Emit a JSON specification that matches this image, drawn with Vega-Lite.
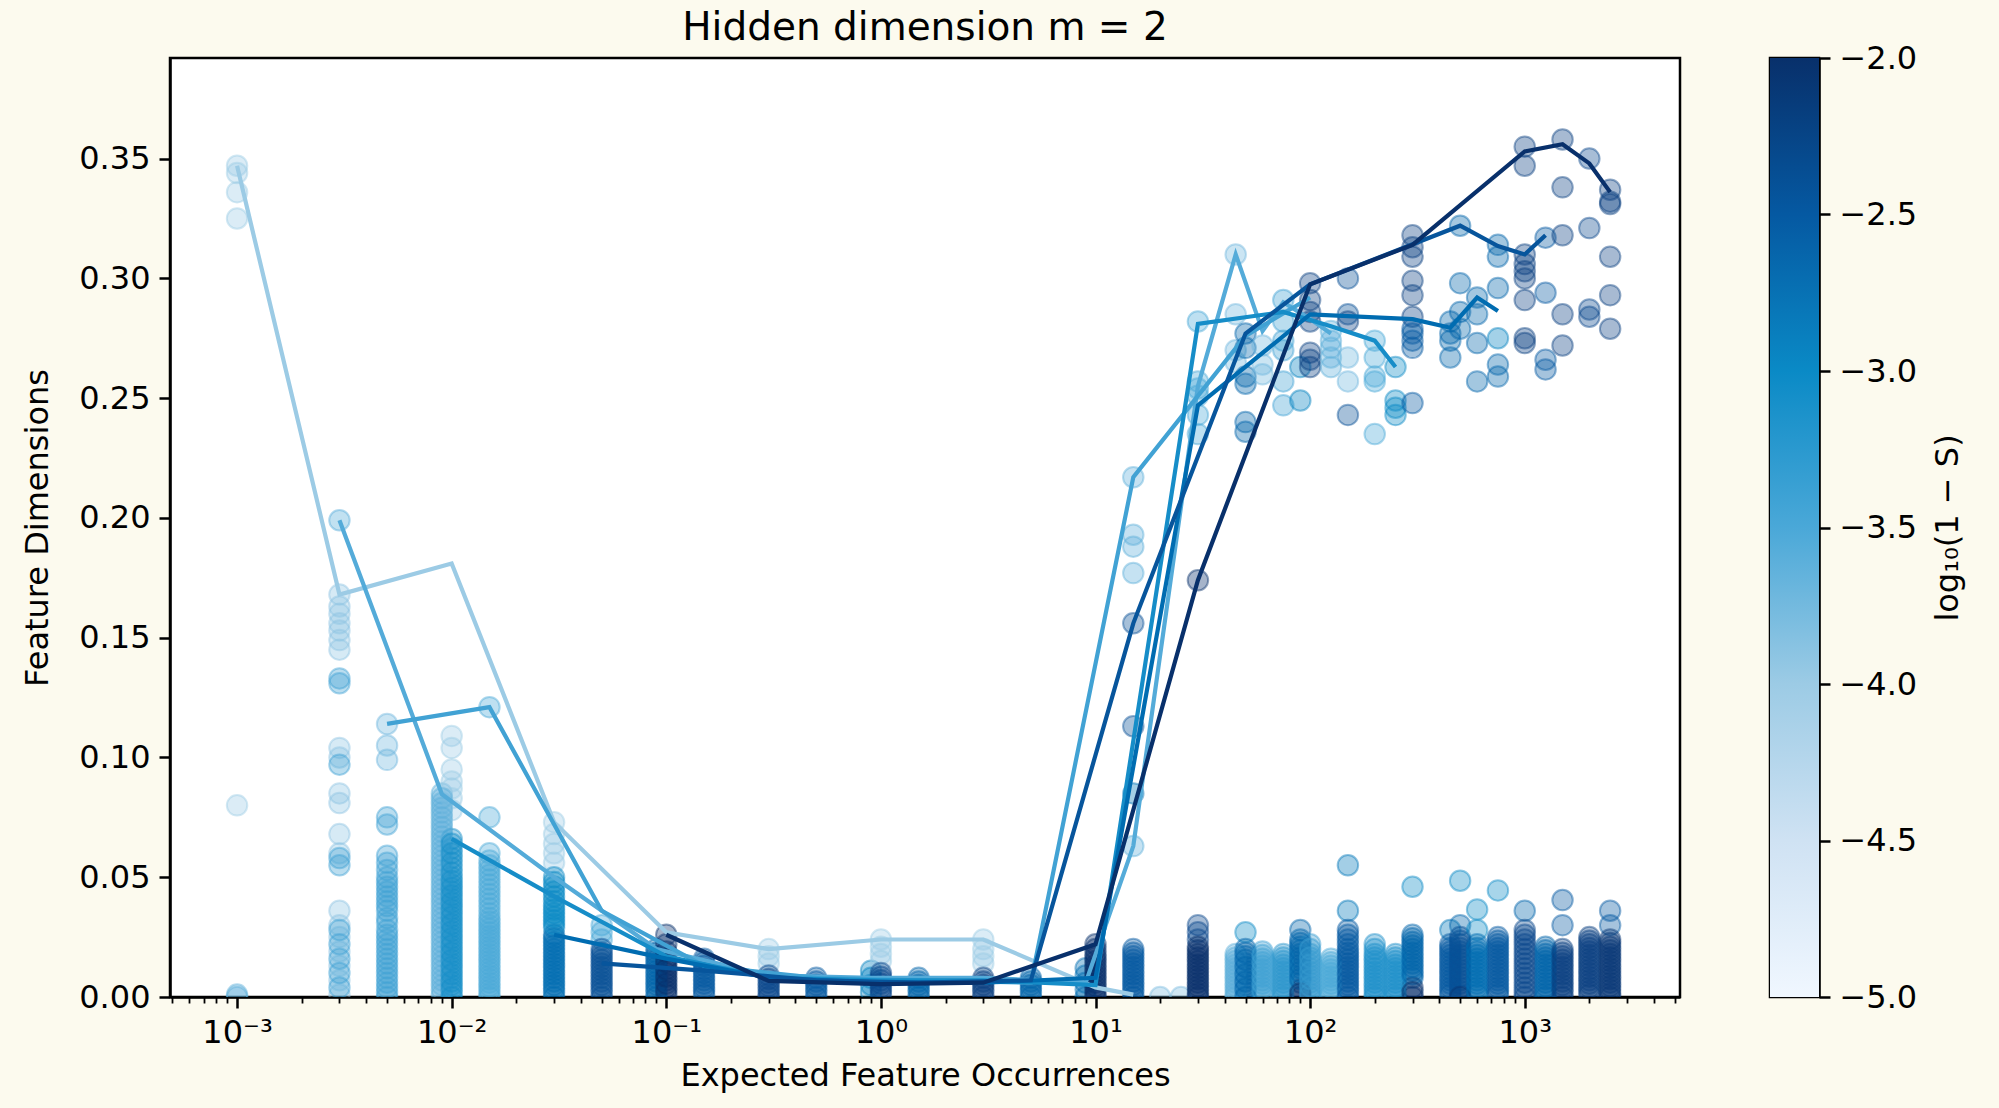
{
  "$schema": "https://vega.github.io/schema/vega-lite/v6.json",
  "background": "#fcfaee",
  "padding": {"left": 20, "top": 7, "right": 34, "bottom": 17},
  "spacing": 86,
  "config": {
    "font": "DejaVu Sans",
    "view": {"stroke": "black", "strokeWidth": 2.5, "fill": "white"},
    "axis": {
      "labelFont": "DejaVu Sans", "labelFontSize": 32, "labelColor": "black",
      "titleFont": "DejaVu Sans", "titleFontSize": 32, "titleFontWeight": "normal", "titleColor": "black",
      "domainColor": "black", "domainWidth": 2.5, "tickColor": "black", "tickWidth": 2.5,
      "tickSize": 11, "labelPadding": 9, "grid": false
    },
    "title": {"font": "DejaVu Sans", "fontSize": 39, "fontWeight": "normal", "color": "black"}
  },
  "datasets": {
    "pts": [
      {"x":0.001,"y":0.347,"c":-4},{"x":0.001,"y":0.344,"c":-4},{"x":0.001,"y":0.336,"c":-4},{"x":0.001,"y":0.325,"c":-4},{"x":0.001,"y":0.08,"c":-4},
      {"x":0.001,"y":0,"c":-3.6},{"x":0.001,"y":0.001,"c":-3.6},
      {"x":0.003,"y":0.168,"c":-3.9},{"x":0.003,"y":0.163,"c":-3.9},{"x":0.003,"y":0.16,"c":-3.9},{"x":0.003,"y":0.156,"c":-3.9},{"x":0.003,"y":0.153,"c":-3.9},{"x":0.003,"y":0.149,"c":-3.9},{"x":0.003,"y":0.145,"c":-3.9},{"x":0.003,"y":0.104,"c":-3.9},{"x":0.003,"y":0.1,"c":-3.9},{"x":0.003,"y":0.085,"c":-3.9},{"x":0.003,"y":0.081,"c":-3.9},{"x":0.003,"y":0.068,"c":-3.9},{"x":0.003,"y":0.06,"c":-3.9},{"x":0.003,"y":0.036,"c":-3.9},{"x":0.003,"y":0.03,"c":-3.9},{"x":0.003,"y":0.025,"c":-3.9},{"x":0.003,"y":0.019,"c":-3.9},{"x":0.003,"y":0.013,"c":-3.9},{"x":0.003,"y":0.007,"c":-3.9},{"x":0.003,"y":0.001,"c":-3.9},
      {"x":0.003,"y":0.133,"c":-3.4},{"x":0.003,"y":0.131,"c":-3.4},{"x":0.003,"y":0.097,"c":-3.4},{"x":0.003,"y":0.058,"c":-3.4},{"x":0.003,"y":0.055,"c":-3.4},{"x":0.003,"y":0.028,"c":-3.4},{"x":0.003,"y":0.022,"c":-3.4},{"x":0.003,"y":0.016,"c":-3.4},{"x":0.003,"y":0.01,"c":-3.4},{"x":0.003,"y":0.004,"c":-3.4},
      {"x":0.003,"y":0.199,"c":-3.55},
      {"x":0.005,"y":0.114,"c":-3.7},{"x":0.005,"y":0.105,"c":-3.7},{"x":0.005,"y":0.099,"c":-3.7},
      {"x":0.005,"y":0.075,"c":-3.4},{"x":0.005,"y":0.072,"c":-3.4},{"x":0.005,"y":0.059,"c":-3.4},{"x":0.005,"y":0.056,"c":-3.4},{"x":0.005,"y":0.05,"c":-3.4},{"x":0.005,"y":0.046,"c":-3.4},{"x":0.005,"y":0.042,"c":-3.4},{"x":0.005,"y":0.038,"c":-3.4},{"x":0.005,"y":0.033,"c":-3.4},{"x":0.005,"y":0.028,"c":-3.4},{"x":0.005,"y":0.024,"c":-3.4},{"x":0.005,"y":0.02,"c":-3.4},{"x":0.005,"y":0.016,"c":-3.4},{"x":0.005,"y":0.012,"c":-3.4},{"x":0.005,"y":0.008,"c":-3.4},{"x":0.005,"y":0.004,"c":-3.4},{"x":0.005,"y":0,"c":-3.4},
      {"x":0.009,"y":0.085,"c":-3.6},{"x":0.009,"y":0.081,"c":-3.6},{"x":0.009,"y":0.077,"c":-3.6},{"x":0.009,"y":0.073,"c":-3.6},{"x":0.009,"y":0.069,"c":-3.6},{"x":0.009,"y":0.065,"c":-3.6},{"x":0.009,"y":0.061,"c":-3.6},{"x":0.009,"y":0.057,"c":-3.6},{"x":0.009,"y":0.053,"c":-3.6},{"x":0.009,"y":0.049,"c":-3.6},{"x":0.009,"y":0.045,"c":-3.6},{"x":0.009,"y":0.041,"c":-3.6},{"x":0.009,"y":0.037,"c":-3.6},{"x":0.009,"y":0.033,"c":-3.6},{"x":0.009,"y":0.029,"c":-3.6},{"x":0.009,"y":0.025,"c":-3.6},{"x":0.009,"y":0.021,"c":-3.6},{"x":0.009,"y":0.017,"c":-3.6},{"x":0.009,"y":0.013,"c":-3.6},{"x":0.009,"y":0.009,"c":-3.6},{"x":0.009,"y":0.005,"c":-3.6},{"x":0.009,"y":0.001,"c":-3.6},
      {"x":0.01,"y":0.109,"c":-4},{"x":0.01,"y":0.104,"c":-4},{"x":0.01,"y":0.095,"c":-4},{"x":0.01,"y":0.09,"c":-4},{"x":0.01,"y":0.087,"c":-4},{"x":0.01,"y":0.083,"c":-4},{"x":0.01,"y":0.078,"c":-4},
      {"x":0.01,"y":0.066,"c":-3.05},{"x":0.01,"y":0.062,"c":-3.05},{"x":0.01,"y":0.058,"c":-3.05},{"x":0.01,"y":0.054,"c":-3.05},{"x":0.01,"y":0.05,"c":-3.05},{"x":0.01,"y":0.047,"c":-3.05},{"x":0.01,"y":0.044,"c":-3.05},{"x":0.01,"y":0.041,"c":-3.05},{"x":0.01,"y":0.038,"c":-3.05},{"x":0.01,"y":0.035,"c":-3.05},{"x":0.01,"y":0.032,"c":-3.05},{"x":0.01,"y":0.029,"c":-3.05},{"x":0.01,"y":0.026,"c":-3.05},{"x":0.01,"y":0.023,"c":-3.05},{"x":0.01,"y":0.02,"c":-3.05},{"x":0.01,"y":0.017,"c":-3.05},{"x":0.01,"y":0.014,"c":-3.05},{"x":0.01,"y":0.011,"c":-3.05},{"x":0.01,"y":0.008,"c":-3.05},{"x":0.01,"y":0.005,"c":-3.05},{"x":0.01,"y":0.002,"c":-3.05},
      {"x":0.015,"y":0.121,"c":-3.5},{"x":0.015,"y":0.075,"c":-3.5},{"x":0.015,"y":0.06,"c":-3.5},{"x":0.015,"y":0.057,"c":-3.5},{"x":0.015,"y":0.053,"c":-3.5},{"x":0.015,"y":0.049,"c":-3.5},{"x":0.015,"y":0.045,"c":-3.5},{"x":0.015,"y":0.041,"c":-3.5},{"x":0.015,"y":0.037,"c":-3.5},{"x":0.015,"y":0.033,"c":-3.5},{"x":0.015,"y":0.03,"c":-3.5},{"x":0.015,"y":0.027,"c":-3.5},{"x":0.015,"y":0.024,"c":-3.5},{"x":0.015,"y":0.021,"c":-3.5},{"x":0.015,"y":0.018,"c":-3.5},{"x":0.015,"y":0.015,"c":-3.5},{"x":0.015,"y":0.012,"c":-3.5},{"x":0.015,"y":0.009,"c":-3.5},{"x":0.015,"y":0.006,"c":-3.5},{"x":0.015,"y":0.003,"c":-3.5},{"x":0.015,"y":0,"c":-3.5},
      {"x":0.03,"y":0.073,"c":-4},{"x":0.03,"y":0.068,"c":-4},{"x":0.03,"y":0.064,"c":-4},{"x":0.03,"y":0.06,"c":-4},{"x":0.03,"y":0.056,"c":-4},
      {"x":0.03,"y":0.05,"c":-3},{"x":0.03,"y":0.046,"c":-3},{"x":0.03,"y":0.042,"c":-3},{"x":0.03,"y":0.038,"c":-3},{"x":0.03,"y":0.035,"c":-3},{"x":0.03,"y":0.032,"c":-3},{"x":0.03,"y":0.029,"c":-3},
      {"x":0.03,"y":0.026,"c":-2.7},{"x":0.03,"y":0.023,"c":-2.7},{"x":0.03,"y":0.02,"c":-2.7},{"x":0.03,"y":0.017,"c":-2.7},{"x":0.03,"y":0.014,"c":-2.7},{"x":0.03,"y":0.011,"c":-2.7},{"x":0.03,"y":0.008,"c":-2.7},{"x":0.03,"y":0.005,"c":-2.7},{"x":0.03,"y":0.002,"c":-2.7},
      {"x":0.05,"y":0.03,"c":-3.5},{"x":0.05,"y":0.027,"c":-3.5},{"x":0.05,"y":0.024,"c":-3.5},
      {"x":0.05,"y":0.02,"c":-2.4},{"x":0.05,"y":0.017,"c":-2.4},{"x":0.05,"y":0.014,"c":-2.4},{"x":0.05,"y":0.011,"c":-2.4},{"x":0.05,"y":0.008,"c":-2.4},{"x":0.05,"y":0.005,"c":-2.4},{"x":0.05,"y":0.002,"c":-2.4},
      {"x":0.09,"y":0.02,"c":-2.6},{"x":0.09,"y":0.017,"c":-2.6},{"x":0.09,"y":0.014,"c":-2.6},{"x":0.09,"y":0.011,"c":-2.6},{"x":0.09,"y":0.008,"c":-2.6},{"x":0.09,"y":0.005,"c":-2.6},{"x":0.09,"y":0.002,"c":-2.6},
      {"x":0.1,"y":0.026,"c":-2},{"x":0.1,"y":0.016,"c":-2},{"x":0.1,"y":0.013,"c":-2},{"x":0.1,"y":0.01,"c":-2},{"x":0.1,"y":0.007,"c":-2},{"x":0.1,"y":0.004,"c":-2},{"x":0.1,"y":0.001,"c":-2},
      {"x":0.15,"y":0.016,"c":-2.5},{"x":0.15,"y":0.013,"c":-2.5},{"x":0.15,"y":0.01,"c":-2.5},{"x":0.15,"y":0.007,"c":-2.5},{"x":0.15,"y":0.004,"c":-2.5},{"x":0.15,"y":0.001,"c":-2.5},
      {"x":0.3,"y":0.02,"c":-4},{"x":0.3,"y":0.017,"c":-4},{"x":0.3,"y":0.014,"c":-4},
      {"x":0.3,"y":0.009,"c":-2.3},{"x":0.3,"y":0.006,"c":-2.3},{"x":0.3,"y":0.003,"c":-2.3},{"x":0.3,"y":0,"c":-2.3},
      {"x":0.5,"y":0.008,"c":-2.5},{"x":0.5,"y":0.005,"c":-2.5},{"x":0.5,"y":0.002,"c":-2.5},
      {"x":0.9,"y":0.011,"c":-2.9},{"x":0.9,"y":0.008,"c":-2.9},{"x":0.9,"y":0.005,"c":-2.9},{"x":0.9,"y":0.002,"c":-2.9},
      {"x":1,"y":0.024,"c":-4},{"x":1,"y":0.021,"c":-4},{"x":1,"y":0.018,"c":-4},{"x":1,"y":0.015,"c":-4},
      {"x":1,"y":0.01,"c":-2.3},{"x":1,"y":0.007,"c":-2.3},{"x":1,"y":0.004,"c":-2.3},{"x":1,"y":0.001,"c":-2.3},
      {"x":1.5,"y":0.008,"c":-2.6},{"x":1.5,"y":0.005,"c":-2.6},{"x":1.5,"y":0.002,"c":-2.6},
      {"x":3,"y":0.024,"c":-4},{"x":3,"y":0.02,"c":-4},{"x":3,"y":0.017,"c":-4},{"x":3,"y":0.014,"c":-4},
      {"x":3,"y":0.008,"c":-2.2},{"x":3,"y":0.005,"c":-2.2},{"x":3,"y":0.002,"c":-2.2},
      {"x":5,"y":0.008,"c":-2.6},{"x":5,"y":0.005,"c":-2.6},{"x":5,"y":0.002,"c":-2.6},
      {"x":9,"y":0.012,"c":-2.7},{"x":9,"y":0.009,"c":-2.7},{"x":9,"y":0.006,"c":-2.7},{"x":9,"y":0.003,"c":-2.7},{"x":9,"y":0,"c":-2.7},
      {"x":10,"y":0.022,"c":-2},{"x":10,"y":0.018,"c":-2},{"x":10,"y":0.015,"c":-2},{"x":10,"y":0.012,"c":-2},{"x":10,"y":0.009,"c":-2},{"x":10,"y":0.006,"c":-2},{"x":10,"y":0.003,"c":-2},{"x":10,"y":0,"c":-2},
      {"x":15,"y":0.217,"c":-3.6},{"x":15,"y":0.193,"c":-3.6},{"x":15,"y":0.188,"c":-3.6},{"x":15,"y":0.177,"c":-3.6},{"x":15,"y":0.063,"c":-3.6},
      {"x":15,"y":0.156,"c":-2.4},{"x":15,"y":0.113,"c":-2.4},{"x":15,"y":0.085,"c":-2.8},
      {"x":15,"y":0.02,"c":-2.5},{"x":15,"y":0.017,"c":-2.5},{"x":15,"y":0.014,"c":-2.5},{"x":15,"y":0.011,"c":-2.5},{"x":15,"y":0.008,"c":-2.5},{"x":15,"y":0.005,"c":-2.5},{"x":15,"y":0.002,"c":-2.5},
      {"x":20,"y":0,"c":-3.8},{"x":25,"y":0,"c":-3.8},
      {"x":30,"y":0.282,"c":-3.5},{"x":30,"y":0.257,"c":-3.5},{"x":30,"y":0.254,"c":-3.5},{"x":30,"y":0.251,"c":-3.5},{"x":30,"y":0.243,"c":-3.5},{"x":30,"y":0.235,"c":-3.5},
      {"x":30,"y":0.174,"c":-2},{"x":30,"y":0.03,"c":-2.3},{"x":30,"y":0.027,"c":-2.3},{"x":30,"y":0.024,"c":-2.3},
      {"x":30,"y":0.021,"c":-2},{"x":30,"y":0.018,"c":-2},{"x":30,"y":0.015,"c":-2},{"x":30,"y":0.012,"c":-2},{"x":30,"y":0.009,"c":-2},{"x":30,"y":0.006,"c":-2},{"x":30,"y":0.003,"c":-2},{"x":30,"y":0,"c":-2},
      {"x":45,"y":0.31,"c":-3.7},{"x":45,"y":0.285,"c":-3.7},{"x":45,"y":0.27,"c":-3.7},{"x":45,"y":0.265,"c":-3.7},
      {"x":45,"y":0.018,"c":-3.6},{"x":45,"y":0.015,"c":-3.6},{"x":45,"y":0.012,"c":-3.6},{"x":45,"y":0.009,"c":-3.6},{"x":45,"y":0.006,"c":-3.6},{"x":45,"y":0.003,"c":-3.6},{"x":45,"y":0,"c":-3.6},
      {"x":50,"y":0.277,"c":-2.6},{"x":50,"y":0.271,"c":-2.6},{"x":50,"y":0.259,"c":-2.6},{"x":50,"y":0.256,"c":-2.6},{"x":50,"y":0.24,"c":-2.6},{"x":50,"y":0.236,"c":-2.6},{"x":50,"y":0.027,"c":-3},
      {"x":50,"y":0.02,"c":-2.6},{"x":50,"y":0.017,"c":-2.6},{"x":50,"y":0.014,"c":-2.6},{"x":50,"y":0.011,"c":-2.6},{"x":50,"y":0.008,"c":-2.6},{"x":50,"y":0.005,"c":-2.6},{"x":50,"y":0.002,"c":-2.6},
      {"x":60,"y":0.272,"c":-3.7},{"x":60,"y":0.264,"c":-3.7},{"x":60,"y":0.26,"c":-3.7},
      {"x":60,"y":0.019,"c":-3.4},{"x":60,"y":0.016,"c":-3.4},{"x":60,"y":0.013,"c":-3.4},{"x":60,"y":0.01,"c":-3.4},{"x":60,"y":0.007,"c":-3.4},{"x":60,"y":0.004,"c":-3.4},{"x":60,"y":0.001,"c":-3.4},
      {"x":75,"y":0.291,"c":-3.4},{"x":75,"y":0.282,"c":-3.4},{"x":75,"y":0.274,"c":-3.4},{"x":75,"y":0.27,"c":-3.4},{"x":75,"y":0.257,"c":-3.4},{"x":75,"y":0.247,"c":-3.4},
      {"x":75,"y":0.018,"c":-3.2},{"x":75,"y":0.015,"c":-3.2},{"x":75,"y":0.012,"c":-3.2},{"x":75,"y":0.009,"c":-3.2},{"x":75,"y":0.006,"c":-3.2},{"x":75,"y":0.003,"c":-3.2},{"x":75,"y":0,"c":-3.2},
      {"x":90,"y":0.263,"c":-2.9},{"x":90,"y":0.249,"c":-2.9},
      {"x":90,"y":0.028,"c":-2.6},{"x":90,"y":0.024,"c":-2.6},{"x":90,"y":0.021,"c":-2.6},{"x":90,"y":0.018,"c":-2.6},{"x":90,"y":0.015,"c":-2.6},{"x":90,"y":0.012,"c":-2.6},{"x":90,"y":0.009,"c":-2.6},{"x":90,"y":0.006,"c":-2.6},
      {"x":90,"y":0.003,"c":-2},{"x":90,"y":0,"c":-2},
      {"x":100,"y":0.298,"c":-2.2},{"x":100,"y":0.291,"c":-2.2},{"x":100,"y":0.286,"c":-2.2},{"x":100,"y":0.282,"c":-2.2},{"x":100,"y":0.269,"c":-2.2},{"x":100,"y":0.266,"c":-2.2},{"x":100,"y":0.263,"c":-2.2},
      {"x":100,"y":0.022,"c":-3.3},{"x":100,"y":0.018,"c":-3.3},{"x":100,"y":0.015,"c":-3.3},{"x":100,"y":0.012,"c":-3.3},{"x":100,"y":0.009,"c":-3.3},{"x":100,"y":0.006,"c":-3.3},{"x":100,"y":0.003,"c":-3.3},{"x":100,"y":0,"c":-3.3},
      {"x":125,"y":0.278,"c":-3.6},{"x":125,"y":0.274,"c":-3.6},{"x":125,"y":0.271,"c":-3.6},{"x":125,"y":0.267,"c":-3.6},{"x":125,"y":0.263,"c":-3.6},
      {"x":125,"y":0.016,"c":-3.5},{"x":125,"y":0.013,"c":-3.5},{"x":125,"y":0.01,"c":-3.5},{"x":125,"y":0.007,"c":-3.5},{"x":125,"y":0.004,"c":-3.5},{"x":125,"y":0.001,"c":-3.5},
      {"x":150,"y":0.3,"c":-2.4},{"x":150,"y":0.285,"c":-2.4},{"x":150,"y":0.243,"c":-2.4},{"x":150,"y":0.282,"c":-2.2},{"x":150,"y":0.267,"c":-3.7},{"x":150,"y":0.257,"c":-3.7},
      {"x":150,"y":0.055,"c":-2.8},{"x":150,"y":0.036,"c":-2.8},
      {"x":150,"y":0.028,"c":-2.5},{"x":150,"y":0.024,"c":-2.5},{"x":150,"y":0.02,"c":-2.5},{"x":150,"y":0.017,"c":-2.5},{"x":150,"y":0.014,"c":-2.5},{"x":150,"y":0.011,"c":-2.5},{"x":150,"y":0.008,"c":-2.5},{"x":150,"y":0.005,"c":-2.5},{"x":150,"y":0.002,"c":-2.5},
      {"x":200,"y":0.274,"c":-3.5},{"x":200,"y":0.267,"c":-3.5},{"x":200,"y":0.259,"c":-3.5},{"x":200,"y":0.257,"c":-3.5},{"x":200,"y":0.235,"c":-3.5},
      {"x":200,"y":0.022,"c":-3.1},{"x":200,"y":0.018,"c":-3.1},{"x":200,"y":0.015,"c":-3.1},{"x":200,"y":0.012,"c":-3.1},{"x":200,"y":0.009,"c":-3.1},{"x":200,"y":0.006,"c":-3.1},{"x":200,"y":0.003,"c":-3.1},{"x":200,"y":0,"c":-3.1},
      {"x":250,"y":0.263,"c":-3},{"x":250,"y":0.249,"c":-3},{"x":250,"y":0.246,"c":-3},{"x":250,"y":0.243,"c":-3},
      {"x":250,"y":0.018,"c":-3.1},{"x":250,"y":0.015,"c":-3.1},{"x":250,"y":0.012,"c":-3.1},{"x":250,"y":0.009,"c":-3.1},{"x":250,"y":0.006,"c":-3.1},{"x":250,"y":0.003,"c":-3.1},{"x":250,"y":0,"c":-3.1},
      {"x":300,"y":0.318,"c":-2.2},{"x":300,"y":0.313,"c":-2.2},{"x":300,"y":0.309,"c":-2.2},{"x":300,"y":0.299,"c":-2.2},{"x":300,"y":0.293,"c":-2.2},{"x":300,"y":0.284,"c":-2.2},
      {"x":300,"y":0.279,"c":-2.5},{"x":300,"y":0.277,"c":-2.5},{"x":300,"y":0.274,"c":-2.5},{"x":300,"y":0.271,"c":-2.5},{"x":300,"y":0.248,"c":-2.5},
      {"x":300,"y":0.046,"c":-3},
      {"x":300,"y":0.026,"c":-2.6},{"x":300,"y":0.023,"c":-2.6},{"x":300,"y":0.02,"c":-2.6},{"x":300,"y":0.017,"c":-2.6},{"x":300,"y":0.014,"c":-2.6},{"x":300,"y":0.011,"c":-2.6},{"x":300,"y":0.008,"c":-2.6},
      {"x":300,"y":0.004,"c":-2},{"x":300,"y":0,"c":-2},
      {"x":450,"y":0.282,"c":-2.6},{"x":450,"y":0.277,"c":-2.6},{"x":450,"y":0.274,"c":-2.6},{"x":450,"y":0.267,"c":-2.6},{"x":450,"y":0.028,"c":-2.8},
      {"x":450,"y":0.022,"c":-2.5},{"x":450,"y":0.019,"c":-2.5},{"x":450,"y":0.016,"c":-2.5},{"x":450,"y":0.013,"c":-2.5},{"x":450,"y":0.01,"c":-2.5},{"x":450,"y":0.007,"c":-2.5},{"x":450,"y":0.004,"c":-2.5},{"x":450,"y":0.001,"c":-2.5},
      {"x":500,"y":0.322,"c":-2.6},{"x":500,"y":0.298,"c":-2.6},{"x":500,"y":0.286,"c":-2.6},{"x":500,"y":0.279,"c":-2.6},{"x":500,"y":0.03,"c":-2.6},{"x":500,"y":0.0485,"c":-3},
      {"x":500,"y":0.025,"c":-2.4},{"x":500,"y":0.022,"c":-2.4},{"x":500,"y":0.019,"c":-2.4},{"x":500,"y":0.016,"c":-2.4},{"x":500,"y":0.013,"c":-2.4},{"x":500,"y":0.01,"c":-2.4},{"x":500,"y":0.007,"c":-2.4},{"x":500,"y":0.004,"c":-2.4},{"x":500,"y":0.001,"c":-2.4},
      {"x":600,"y":0.292,"c":-2.6},{"x":600,"y":0.285,"c":-2.6},{"x":600,"y":0.273,"c":-2.6},{"x":600,"y":0.257,"c":-2.6},{"x":600,"y":0.0365,"c":-3},{"x":600,"y":0.028,"c":-3},
      {"x":600,"y":0.022,"c":-2.7},{"x":600,"y":0.019,"c":-2.7},{"x":600,"y":0.016,"c":-2.7},{"x":600,"y":0.013,"c":-2.7},{"x":600,"y":0.01,"c":-2.7},{"x":600,"y":0.007,"c":-2.7},{"x":600,"y":0.004,"c":-2.7},{"x":600,"y":0.001,"c":-2.7},
      {"x":750,"y":0.314,"c":-2.6},{"x":750,"y":0.309,"c":-2.6},{"x":750,"y":0.296,"c":-2.6},{"x":750,"y":0.264,"c":-2.6},{"x":750,"y":0.259,"c":-2.6},{"x":750,"y":0.275,"c":-2.9},{"x":750,"y":0.0445,"c":-3},
      {"x":750,"y":0.025,"c":-2.5},{"x":750,"y":0.022,"c":-2.5},{"x":750,"y":0.019,"c":-2.5},{"x":750,"y":0.016,"c":-2.5},{"x":750,"y":0.013,"c":-2.5},{"x":750,"y":0.01,"c":-2.5},{"x":750,"y":0.007,"c":-2.5},{"x":750,"y":0.004,"c":-2.5},{"x":750,"y":0.001,"c":-2.5},
      {"x":1000,"y":0.355,"c":-2.2},{"x":1000,"y":0.347,"c":-2.2},{"x":1000,"y":0.31,"c":-2.2},{"x":1000,"y":0.306,"c":-2.2},{"x":1000,"y":0.303,"c":-2.2},{"x":1000,"y":0.3,"c":-2.2},{"x":1000,"y":0.291,"c":-2.2},{"x":1000,"y":0.275,"c":-2.2},{"x":1000,"y":0.273,"c":-2.2},{"x":1000,"y":0.036,"c":-2.6},
      {"x":1000,"y":0.028,"c":-2.3},{"x":1000,"y":0.024,"c":-2.3},{"x":1000,"y":0.02,"c":-2.3},{"x":1000,"y":0.016,"c":-2.3},{"x":1000,"y":0.012,"c":-2.3},{"x":1000,"y":0.008,"c":-2.3},{"x":1000,"y":0.004,"c":-2.3},{"x":1000,"y":0,"c":-2.3},
      {"x":1250,"y":0.317,"c":-2.5},{"x":1250,"y":0.294,"c":-2.5},{"x":1250,"y":0.266,"c":-2.5},{"x":1250,"y":0.262,"c":-2.5},
      {"x":1250,"y":0.021,"c":-2.6},{"x":1250,"y":0.018,"c":-2.6},{"x":1250,"y":0.015,"c":-2.6},{"x":1250,"y":0.012,"c":-2.6},{"x":1250,"y":0.009,"c":-2.6},{"x":1250,"y":0.006,"c":-2.6},{"x":1250,"y":0.003,"c":-2.6},{"x":1250,"y":0,"c":-2.6},
      {"x":1500,"y":0.358,"c":-2.2},{"x":1500,"y":0.338,"c":-2.2},{"x":1500,"y":0.318,"c":-2.2},{"x":1500,"y":0.285,"c":-2.2},{"x":1500,"y":0.272,"c":-2.2},{"x":1500,"y":0.0405,"c":-2.5},{"x":1500,"y":0.03,"c":-2.5},
      {"x":1500,"y":0.02,"c":-2.2},{"x":1500,"y":0.017,"c":-2.2},{"x":1500,"y":0.014,"c":-2.2},{"x":1500,"y":0.011,"c":-2.2},{"x":1500,"y":0.008,"c":-2.2},{"x":1500,"y":0.005,"c":-2.2},{"x":1500,"y":0.002,"c":-2.2},
      {"x":2000,"y":0.35,"c":-2.3},{"x":2000,"y":0.321,"c":-2.3},{"x":2000,"y":0.287,"c":-2.3},{"x":2000,"y":0.284,"c":-2.3},
      {"x":2000,"y":0.025,"c":-2.2},{"x":2000,"y":0.022,"c":-2.2},{"x":2000,"y":0.019,"c":-2.2},{"x":2000,"y":0.016,"c":-2.2},{"x":2000,"y":0.013,"c":-2.2},{"x":2000,"y":0.01,"c":-2.2},{"x":2000,"y":0.007,"c":-2.2},{"x":2000,"y":0.004,"c":-2.2},{"x":2000,"y":0.001,"c":-2.2},
      {"x":2500,"y":0.337,"c":-2.2},{"x":2500,"y":0.332,"c":-2.2},{"x":2500,"y":0.331,"c":-2.2},{"x":2500,"y":0.309,"c":-2.2},{"x":2500,"y":0.293,"c":-2.2},{"x":2500,"y":0.279,"c":-2.2},{"x":2500,"y":0.036,"c":-2.5},{"x":2500,"y":0.03,"c":-2.5},
      {"x":2500,"y":0.024,"c":-2.1},{"x":2500,"y":0.021,"c":-2.1},{"x":2500,"y":0.018,"c":-2.1},{"x":2500,"y":0.015,"c":-2.1},{"x":2500,"y":0.012,"c":-2.1},{"x":2500,"y":0.009,"c":-2.1},{"x":2500,"y":0.006,"c":-2.1},{"x":2500,"y":0.003,"c":-2.1},{"x":2500,"y":0,"c":-2.1},
      {"x":0.005,"y":0.002,"c":-3.4},{"x":0.005,"y":0.006,"c":-3.4},{"x":0.005,"y":0.01,"c":-3.4},{"x":0.005,"y":0.014,"c":-3.4},{"x":0.005,"y":0.018,"c":-3.4},{"x":0.005,"y":0.022,"c":-3.4},{"x":0.005,"y":0.026,"c":-3.4},{"x":0.005,"y":0.031,"c":-3.4},{"x":0.005,"y":0.036,"c":-3.4},{"x":0.005,"y":0.04,"c":-3.4},{"x":0.005,"y":0.044,"c":-3.4},{"x":0.005,"y":0.048,"c":-3.4},{"x":0.005,"y":0.053,"c":-3.4},
      {"x":0.009,"y":0.003,"c":-3.6},{"x":0.009,"y":0.007,"c":-3.6},{"x":0.009,"y":0.011,"c":-3.6},{"x":0.009,"y":0.015,"c":-3.6},{"x":0.009,"y":0.019,"c":-3.6},{"x":0.009,"y":0.023,"c":-3.6},{"x":0.009,"y":0.027,"c":-3.6},{"x":0.009,"y":0.031,"c":-3.6},{"x":0.009,"y":0.035,"c":-3.6},{"x":0.009,"y":0.039,"c":-3.6},{"x":0.009,"y":0.043,"c":-3.6},{"x":0.009,"y":0.047,"c":-3.6},{"x":0.009,"y":0.051,"c":-3.6},{"x":0.009,"y":0.055,"c":-3.6},{"x":0.009,"y":0.059,"c":-3.6},{"x":0.009,"y":0.063,"c":-3.6},{"x":0.009,"y":0.067,"c":-3.6},{"x":0.009,"y":0.071,"c":-3.6},{"x":0.009,"y":0.075,"c":-3.6},{"x":0.009,"y":0.079,"c":-3.6},{"x":0.009,"y":0.083,"c":-3.6},
      {"x":0.01,"y":0,"c":-3.05},{"x":0.01,"y":0.0035,"c":-3.05},{"x":0.01,"y":0.0065,"c":-3.05},{"x":0.01,"y":0.0095,"c":-3.05},{"x":0.01,"y":0.0125,"c":-3.05},{"x":0.01,"y":0.0155,"c":-3.05},{"x":0.01,"y":0.0185,"c":-3.05},{"x":0.01,"y":0.0215,"c":-3.05},{"x":0.01,"y":0.0245,"c":-3.05},{"x":0.01,"y":0.0275,"c":-3.05},{"x":0.01,"y":0.0305,"c":-3.05},{"x":0.01,"y":0.0335,"c":-3.05},{"x":0.01,"y":0.0365,"c":-3.05},{"x":0.01,"y":0.0395,"c":-3.05},{"x":0.01,"y":0.0425,"c":-3.05},{"x":0.01,"y":0.0455,"c":-3.05},{"x":0.01,"y":0.0485,"c":-3.05},{"x":0.01,"y":0.052,"c":-3.05},{"x":0.01,"y":0.056,"c":-3.05},{"x":0.01,"y":0.06,"c":-3.05},{"x":0.01,"y":0.064,"c":-3.05},
      {"x":0.015,"y":0.0015,"c":-3.5},{"x":0.015,"y":0.0045,"c":-3.5},{"x":0.015,"y":0.0075,"c":-3.5},{"x":0.015,"y":0.0105,"c":-3.5},{"x":0.015,"y":0.0135,"c":-3.5},{"x":0.015,"y":0.0165,"c":-3.5},{"x":0.015,"y":0.0195,"c":-3.5},{"x":0.015,"y":0.0225,"c":-3.5},{"x":0.015,"y":0.0255,"c":-3.5},{"x":0.015,"y":0.0285,"c":-3.5},{"x":0.015,"y":0.0315,"c":-3.5},{"x":0.015,"y":0.035,"c":-3.5},{"x":0.015,"y":0.039,"c":-3.5},{"x":0.015,"y":0.043,"c":-3.5},{"x":0.015,"y":0.047,"c":-3.5},{"x":0.015,"y":0.051,"c":-3.5},{"x":0.015,"y":0.055,"c":-3.5},
      {"x":0.03,"y":0,"c":-2.7},{"x":0.03,"y":0.0035,"c":-2.7},{"x":0.03,"y":0.0065,"c":-2.7},{"x":0.03,"y":0.0095,"c":-2.7},{"x":0.03,"y":0.0125,"c":-2.7},{"x":0.03,"y":0.0155,"c":-2.7},{"x":0.03,"y":0.0185,"c":-2.7},{"x":0.03,"y":0.0215,"c":-2.7},{"x":0.03,"y":0.0245,"c":-2.7},
      {"x":0.03,"y":0.0305,"c":-3},{"x":0.03,"y":0.0335,"c":-3},{"x":0.03,"y":0.0365,"c":-3},{"x":0.03,"y":0.04,"c":-3},{"x":0.03,"y":0.044,"c":-3},{"x":0.03,"y":0.048,"c":-3},
      {"x":0.05,"y":0,"c":-2.4},{"x":0.05,"y":0.0035,"c":-2.4},{"x":0.05,"y":0.0065,"c":-2.4},{"x":0.05,"y":0.0095,"c":-2.4},{"x":0.05,"y":0.0125,"c":-2.4},{"x":0.05,"y":0.0155,"c":-2.4},{"x":0.05,"y":0.0185,"c":-2.4},
      {"x":0.09,"y":0,"c":-2.6},{"x":0.09,"y":0.0035,"c":-2.6},{"x":0.09,"y":0.0065,"c":-2.6},{"x":0.09,"y":0.0095,"c":-2.6},{"x":0.09,"y":0.0125,"c":-2.6},{"x":0.09,"y":0.0155,"c":-2.6},{"x":0.09,"y":0.0185,"c":-2.6},
      {"x":0.1,"y":0.0025,"c":-2},{"x":0.1,"y":0.0055,"c":-2},{"x":0.1,"y":0.0085,"c":-2},{"x":0.1,"y":0.0115,"c":-2},{"x":0.1,"y":0.0145,"c":-2},{"x":0.1,"y":0.019,"c":-2},{"x":0.1,"y":0.022,"c":-2},
      {"x":0.15,"y":0.0025,"c":-2.5},{"x":0.15,"y":0.0055,"c":-2.5},{"x":0.15,"y":0.0085,"c":-2.5},{"x":0.15,"y":0.0115,"c":-2.5},{"x":0.15,"y":0.0145,"c":-2.5},
      {"x":0.3,"y":0.0015,"c":-2.3},{"x":0.3,"y":0.0045,"c":-2.3},{"x":0.3,"y":0.0075,"c":-2.3},
      {"x":0.5,"y":0,"c":-2.5},{"x":0.5,"y":0.0035,"c":-2.5},{"x":0.5,"y":0.0065,"c":-2.5},
      {"x":1,"y":0.0025,"c":-2.3},{"x":1,"y":0.0055,"c":-2.3},{"x":1,"y":0.0085,"c":-2.3},
      {"x":1.5,"y":0,"c":-2.6},{"x":1.5,"y":0.0035,"c":-2.6},{"x":1.5,"y":0.0065,"c":-2.6},
      {"x":3,"y":0,"c":-2.2},{"x":3,"y":0.0035,"c":-2.2},{"x":3,"y":0.0065,"c":-2.2},
      {"x":5,"y":0,"c":-2.6},{"x":5,"y":0.0035,"c":-2.6},{"x":5,"y":0.0065,"c":-2.6},
      {"x":10,"y":0.0015,"c":-2},{"x":10,"y":0.0045,"c":-2},{"x":10,"y":0.0075,"c":-2},{"x":10,"y":0.0105,"c":-2},{"x":10,"y":0.0135,"c":-2},{"x":10,"y":0.0165,"c":-2},{"x":10,"y":0.02,"c":-2},
      {"x":15,"y":0,"c":-2.5},{"x":15,"y":0.0035,"c":-2.5},{"x":15,"y":0.0065,"c":-2.5},{"x":15,"y":0.0095,"c":-2.5},{"x":15,"y":0.0125,"c":-2.5},{"x":15,"y":0.0155,"c":-2.5},{"x":15,"y":0.0185,"c":-2.5},
      {"x":30,"y":0.0015,"c":-2},{"x":30,"y":0.0045,"c":-2},{"x":30,"y":0.0075,"c":-2},{"x":30,"y":0.0105,"c":-2},{"x":30,"y":0.0135,"c":-2},{"x":30,"y":0.0165,"c":-2},{"x":30,"y":0.0195,"c":-2},
      {"x":45,"y":0.0015,"c":-3.6},{"x":45,"y":0.0045,"c":-3.6},{"x":45,"y":0.0075,"c":-3.6},{"x":45,"y":0.0105,"c":-3.6},{"x":45,"y":0.0135,"c":-3.6},{"x":45,"y":0.0165,"c":-3.6},
      {"x":50,"y":0,"c":-2.6},{"x":50,"y":0.0035,"c":-2.6},{"x":50,"y":0.0065,"c":-2.6},{"x":50,"y":0.0095,"c":-2.6},{"x":50,"y":0.0125,"c":-2.6},{"x":50,"y":0.0155,"c":-2.6},{"x":50,"y":0.0185,"c":-2.6},
      {"x":60,"y":0.0025,"c":-3.4},{"x":60,"y":0.0055,"c":-3.4},{"x":60,"y":0.0085,"c":-3.4},{"x":60,"y":0.0115,"c":-3.4},{"x":60,"y":0.0145,"c":-3.4},{"x":60,"y":0.0175,"c":-3.4},
      {"x":75,"y":0.0015,"c":-3.2},{"x":75,"y":0.0045,"c":-3.2},{"x":75,"y":0.0075,"c":-3.2},{"x":75,"y":0.0105,"c":-3.2},{"x":75,"y":0.0135,"c":-3.2},{"x":75,"y":0.0165,"c":-3.2},
      {"x":90,"y":0.0075,"c":-2.6},{"x":90,"y":0.0105,"c":-2.6},{"x":90,"y":0.0135,"c":-2.6},{"x":90,"y":0.0165,"c":-2.6},{"x":90,"y":0.0195,"c":-2.6},{"x":90,"y":0.0225,"c":-2.6},{"x":90,"y":0.0015,"c":-2},
      {"x":100,"y":0.0015,"c":-3.3},{"x":100,"y":0.0045,"c":-3.3},{"x":100,"y":0.0075,"c":-3.3},{"x":100,"y":0.0105,"c":-3.3},{"x":100,"y":0.0135,"c":-3.3},{"x":100,"y":0.0165,"c":-3.3},{"x":100,"y":0.02,"c":-3.3},
      {"x":125,"y":0.0025,"c":-3.5},{"x":125,"y":0.0055,"c":-3.5},{"x":125,"y":0.0085,"c":-3.5},{"x":125,"y":0.0115,"c":-3.5},{"x":125,"y":0.0145,"c":-3.5},
      {"x":150,"y":0,"c":-2.5},{"x":150,"y":0.0035,"c":-2.5},{"x":150,"y":0.0065,"c":-2.5},{"x":150,"y":0.0095,"c":-2.5},{"x":150,"y":0.0125,"c":-2.5},{"x":150,"y":0.0155,"c":-2.5},{"x":150,"y":0.0185,"c":-2.5},{"x":150,"y":0.022,"c":-2.5},{"x":150,"y":0.026,"c":-2.5},
      {"x":200,"y":0.0015,"c":-3.1},{"x":200,"y":0.0045,"c":-3.1},{"x":200,"y":0.0075,"c":-3.1},{"x":200,"y":0.0105,"c":-3.1},{"x":200,"y":0.0135,"c":-3.1},{"x":200,"y":0.0165,"c":-3.1},{"x":200,"y":0.02,"c":-3.1},
      {"x":250,"y":0.0015,"c":-3.1},{"x":250,"y":0.0045,"c":-3.1},{"x":250,"y":0.0075,"c":-3.1},{"x":250,"y":0.0105,"c":-3.1},{"x":250,"y":0.0135,"c":-3.1},{"x":250,"y":0.0165,"c":-3.1},
      {"x":300,"y":0.0095,"c":-2.6},{"x":300,"y":0.0125,"c":-2.6},{"x":300,"y":0.0155,"c":-2.6},{"x":300,"y":0.0185,"c":-2.6},{"x":300,"y":0.0215,"c":-2.6},{"x":300,"y":0.0245,"c":-2.6},{"x":300,"y":0.002,"c":-2},
      {"x":450,"y":0.0025,"c":-2.5},{"x":450,"y":0.0055,"c":-2.5},{"x":450,"y":0.0085,"c":-2.5},{"x":450,"y":0.0115,"c":-2.5},{"x":450,"y":0.0145,"c":-2.5},{"x":450,"y":0.0175,"c":-2.5},{"x":450,"y":0.0205,"c":-2.5},
      {"x":500,"y":0.0025,"c":-2.4},{"x":500,"y":0.0055,"c":-2.4},{"x":500,"y":0.0085,"c":-2.4},{"x":500,"y":0.0115,"c":-2.4},{"x":500,"y":0.0145,"c":-2.4},{"x":500,"y":0.0175,"c":-2.4},{"x":500,"y":0.0205,"c":-2.4},{"x":500,"y":0.0235,"c":-2.4},{"x":500,"y":0,"c":-2.1},
      {"x":600,"y":0.0025,"c":-2.7},{"x":600,"y":0.0055,"c":-2.7},{"x":600,"y":0.0085,"c":-2.7},{"x":600,"y":0.0115,"c":-2.7},{"x":600,"y":0.0145,"c":-2.7},{"x":600,"y":0.0175,"c":-2.7},{"x":600,"y":0.0205,"c":-2.7},
      {"x":750,"y":0.0025,"c":-2.5},{"x":750,"y":0.0055,"c":-2.5},{"x":750,"y":0.0085,"c":-2.5},{"x":750,"y":0.0115,"c":-2.5},{"x":750,"y":0.0145,"c":-2.5},{"x":750,"y":0.0175,"c":-2.5},{"x":750,"y":0.0205,"c":-2.5},{"x":750,"y":0.0235,"c":-2.5},
      {"x":1000,"y":0.002,"c":-2.3},{"x":1000,"y":0.006,"c":-2.3},{"x":1000,"y":0.01,"c":-2.3},{"x":1000,"y":0.014,"c":-2.3},{"x":1000,"y":0.018,"c":-2.3},{"x":1000,"y":0.022,"c":-2.3},{"x":1000,"y":0.026,"c":-2.3},
      {"x":1250,"y":0.0015,"c":-2.6},{"x":1250,"y":0.0045,"c":-2.6},{"x":1250,"y":0.0075,"c":-2.6},{"x":1250,"y":0.0105,"c":-2.6},{"x":1250,"y":0.0135,"c":-2.6},{"x":1250,"y":0.0165,"c":-2.6},{"x":1250,"y":0.0195,"c":-2.6},
      {"x":1500,"y":0,"c":-2.2},{"x":1500,"y":0.0035,"c":-2.2},{"x":1500,"y":0.0065,"c":-2.2},{"x":1500,"y":0.0095,"c":-2.2},{"x":1500,"y":0.0125,"c":-2.2},{"x":1500,"y":0.0155,"c":-2.2},{"x":1500,"y":0.0185,"c":-2.2},
      {"x":2000,"y":0.0025,"c":-2.2},{"x":2000,"y":0.0055,"c":-2.2},{"x":2000,"y":0.0085,"c":-2.2},{"x":2000,"y":0.0115,"c":-2.2},{"x":2000,"y":0.0145,"c":-2.2},{"x":2000,"y":0.0175,"c":-2.2},{"x":2000,"y":0.0205,"c":-2.2},{"x":2000,"y":0.0235,"c":-2.2},
      {"x":2500,"y":0.0015,"c":-2.1},{"x":2500,"y":0.0045,"c":-2.1},{"x":2500,"y":0.0075,"c":-2.1},{"x":2500,"y":0.0105,"c":-2.1},{"x":2500,"y":0.0135,"c":-2.1},{"x":2500,"y":0.0165,"c":-2.1},{"x":2500,"y":0.0195,"c":-2.1},{"x":2500,"y":0.0225,"c":-2.1}
    ],
    "lines": [
      {"id":"A","c":-4,"x":0.001,"y":0.347},{"id":"A","c":-4,"x":0.003,"y":0.168},{"id":"A","c":-4,"x":0.01,"y":0.181},{"id":"A","c":-4,"x":0.03,"y":0.073},{"id":"A","c":-4,"x":0.1,"y":0.027},{"id":"A","c":-4,"x":0.3,"y":0.02},{"id":"A","c":-4,"x":1,"y":0.024},{"id":"A","c":-4,"x":3,"y":0.024},{"id":"A","c":-4,"x":10,"y":0.004},{"id":"A","c":-4,"x":15,"y":0.001},
      {"id":"B","c":-3.55,"x":0.003,"y":0.199},{"id":"B","c":-3.55,"x":0.009,"y":0.0847},{"id":"B","c":-3.55,"x":0.03,"y":0.05},{"id":"B","c":-3.55,"x":0.09,"y":0.02},{"id":"B","c":-3.55,"x":0.3,"y":0.009},{"id":"B","c":-3.55,"x":0.9,"y":0.008},{"id":"B","c":-3.55,"x":3,"y":0.008},{"id":"B","c":-3.55,"x":9,"y":0.006},{"id":"B","c":-3.55,"x":15,"y":0.063},{"id":"B","c":-3.55,"x":30,"y":0.255},{"id":"B","c":-3.55,"x":45,"y":0.31},{"id":"B","c":-3.55,"x":60,"y":0.278},{"id":"B","c":-3.55,"x":75,"y":0.29},{"id":"B","c":-3.55,"x":100,"y":0.283},{"id":"B","c":-3.55,"x":125,"y":0.277},
      {"id":"C","c":-3.4,"x":0.005,"y":0.114},{"id":"C","c":-3.4,"x":0.015,"y":0.121},{"id":"C","c":-3.4,"x":0.05,"y":0.036},{"id":"C","c":-3.4,"x":0.15,"y":0.013},{"id":"C","c":-3.4,"x":0.5,"y":0.008},{"id":"C","c":-3.4,"x":1.5,"y":0.007},{"id":"C","c":-3.4,"x":5,"y":0.006},{"id":"C","c":-3.4,"x":15,"y":0.217},{"id":"C","c":-3.4,"x":50,"y":0.276},{"id":"C","c":-3.4,"x":100,"y":0.292},
      {"id":"D","c":-3.05,"x":0.01,"y":0.066},{"id":"D","c":-3.05,"x":0.03,"y":0.042},{"id":"D","c":-3.05,"x":0.1,"y":0.017},{"id":"D","c":-3.05,"x":0.3,"y":0.008},{"id":"D","c":-3.05,"x":1,"y":0.007},{"id":"D","c":-3.05,"x":3,"y":0.007},{"id":"D","c":-3.05,"x":10,"y":0.005},{"id":"D","c":-3.05,"x":30,"y":0.281},{"id":"D","c":-3.05,"x":75,"y":0.286},{"id":"D","c":-3.05,"x":125,"y":0.28},{"id":"D","c":-3.05,"x":200,"y":0.274},{"id":"D","c":-3.05,"x":250,"y":0.263},
      {"id":"E","c":-2.7,"x":0.03,"y":0.026},{"id":"E","c":-2.7,"x":0.1,"y":0.016},{"id":"E","c":-2.7,"x":0.3,"y":0.008},{"id":"E","c":-2.7,"x":1,"y":0.006},{"id":"E","c":-2.7,"x":3,"y":0.006},{"id":"E","c":-2.7,"x":10,"y":0.008},{"id":"E","c":-2.7,"x":30,"y":0.247},{"id":"E","c":-2.7,"x":100,"y":0.285},{"id":"E","c":-2.7,"x":300,"y":0.283},{"id":"E","c":-2.7,"x":450,"y":0.2794},{"id":"E","c":-2.7,"x":600,"y":0.292},{"id":"E","c":-2.7,"x":750,"y":0.2864},
      {"id":"F","c":-2.45,"x":0.05,"y":0.014},{"id":"F","c":-2.45,"x":0.15,"y":0.011},{"id":"F","c":-2.45,"x":0.5,"y":0.007},{"id":"F","c":-2.45,"x":1.5,"y":0.006},{"id":"F","c":-2.45,"x":5,"y":0.007},{"id":"F","c":-2.45,"x":15,"y":0.156},{"id":"F","c":-2.45,"x":50,"y":0.277},{"id":"F","c":-2.45,"x":100,"y":0.2975},{"id":"F","c":-2.45,"x":500,"y":0.322},{"id":"F","c":-2.45,"x":750,"y":0.3135},{"id":"F","c":-2.45,"x":1000,"y":0.31},{"id":"F","c":-2.45,"x":1250,"y":0.318},
      {"id":"G","c":-2,"x":0.1,"y":0.026},{"id":"G","c":-2,"x":0.3,"y":0.0067},{"id":"G","c":-2,"x":1,"y":0.0054},{"id":"G","c":-2,"x":3,"y":0.006},{"id":"G","c":-2,"x":10,"y":0.022},{"id":"G","c":-2,"x":30,"y":0.174},{"id":"G","c":-2,"x":100,"y":0.2975},{"id":"G","c":-2,"x":300,"y":0.314},{"id":"G","c":-2,"x":1000,"y":0.353},{"id":"G","c":-2,"x":1500,"y":0.356},{"id":"G","c":-2,"x":2000,"y":0.348},{"id":"G","c":-2,"x":2500,"y":0.336}
    ],
    "bar": [{"lo": -5, "hi": -2}]
  },
  "hconcat": [
    {
      "width": 1510,
      "height": 939,
      "title": {"text": "Hidden dimension m = 2", "offset": 10},
      "encoding": {
        "x": {
          "field": "x", "type": "quantitative",
          "scale": {"type": "log", "domain": [0.000487, 5290], "nice": false},
          "axis": {
            "title": "Expected Feature Occurrences",
            "titlePadding": 12,
            "labelOverlap": false,
            "values": [0.0005,0.0006,0.0007,0.0008,0.0009,0.001,0.002,0.003,0.004,0.005,0.006,0.007,0.008,0.009,0.01,0.02,0.03,0.04,0.05,0.06,0.07,0.08,0.09,0.1,0.2,0.3,0.4,0.5,0.6,0.7,0.8,0.9,1,2,3,4,5,6,7,8,9,10,20,30,40,50,60,70,80,90,100,200,300,400,500,600,700,800,900,1000,2000,3000,4000,5000],
            "labelExpr": "abs(log(datum.value)/LN10 - round(log(datum.value)/LN10)) < 0.001 ? '10' + ['⁻³','⁻²','⁻¹','⁰','¹','²','³'][round(log(datum.value)/LN10) + 3] : ''",
            "tickSize": {"condition": {"test": "abs(log(datum.value)/LN10 - round(log(datum.value)/LN10)) < 0.001", "value": 11}, "value": 6},
            "tickWidth": {"condition": {"test": "abs(log(datum.value)/LN10 - round(log(datum.value)/LN10)) < 0.001", "value": 2.5}, "value": 1.8}
          }
        },
        "y": {
          "field": "y", "type": "quantitative",
          "scale": {"domain": [0, 0.392], "nice": false},
          "axis": {"title": "Feature Dimensions", "values": [0, 0.05, 0.1, 0.15, 0.2, 0.25, 0.3, 0.35], "format": ".2f", "titlePadding": 24}
        }
      },
      "layer": [
        {
          "data": {"name": "pts"},
          "mark": {"type": "circle", "size": 420, "fillOpacity": 0.36, "strokeOpacity": 0.45, "strokeWidth": 2, "clip": true},
          "encoding": {
            "fill": {"field": "c", "type": "quantitative", "legend": null, "scale": {"domain": [-5, -4.5, -4, -3.5, -3, -2.5, -2], "range": ["#f0f7ff", "#cfe2f3", "#9ccbe5", "#4aa8d8", "#0a8ac6", "#0559a2", "#08306b"]}},
            "stroke": {"field": "c", "type": "quantitative", "legend": null, "scale": {"domain": [-5, -4.5, -4, -3.5, -3, -2.5, -2], "range": ["#f0f7ff", "#cfe2f3", "#9ccbe5", "#4aa8d8", "#0a8ac6", "#0559a2", "#08306b"]}}
          }
        },
        {
          "data": {"name": "lines"},
          "mark": {"type": "line", "strokeWidth": 4.2, "clip": true},
          "encoding": {
            "detail": {"field": "id"},
            "stroke": {"field": "c", "type": "quantitative", "legend": null, "scale": {"domain": [-5, -4.5, -4, -3.5, -3, -2.5, -2], "range": ["#f0f7ff", "#cfe2f3", "#9ccbe5", "#4aa8d8", "#0a8ac6", "#0559a2", "#08306b"]}}
          }
        }
      ]
    },
    {
      "width": 49,
      "height": 939,
      "data": {"name": "bar"},
      "mark": {
        "type": "rect",
        "color": {
          "gradient": "linear", "x1": 0, "y1": 1, "x2": 0, "y2": 0,
          "stops": [
            {"offset": 0, "color": "#f0f7ff"},
            {"offset": 0.1667, "color": "#cfe2f3"},
            {"offset": 0.3333, "color": "#9ccbe5"},
            {"offset": 0.5, "color": "#4aa8d8"},
            {"offset": 0.6667, "color": "#0a8ac6"},
            {"offset": 0.8333, "color": "#0559a2"},
            {"offset": 1, "color": "#08306b"}
          ]
        }
      },
      "encoding": {
        "y": {
          "field": "lo", "type": "quantitative",
          "scale": {"domain": [-5, -2], "nice": false, "zero": false},
          "axis": {"orient": "right", "title": "log₁₀(1 − S)", "titleAngle": 270, "titlePadding": 48, "values": [-5, -4.5, -4, -3.5, -3, -2.5, -2], "format": ".1f"}
        },
        "y2": {"field": "hi"}
      }
    }
  ]
}
